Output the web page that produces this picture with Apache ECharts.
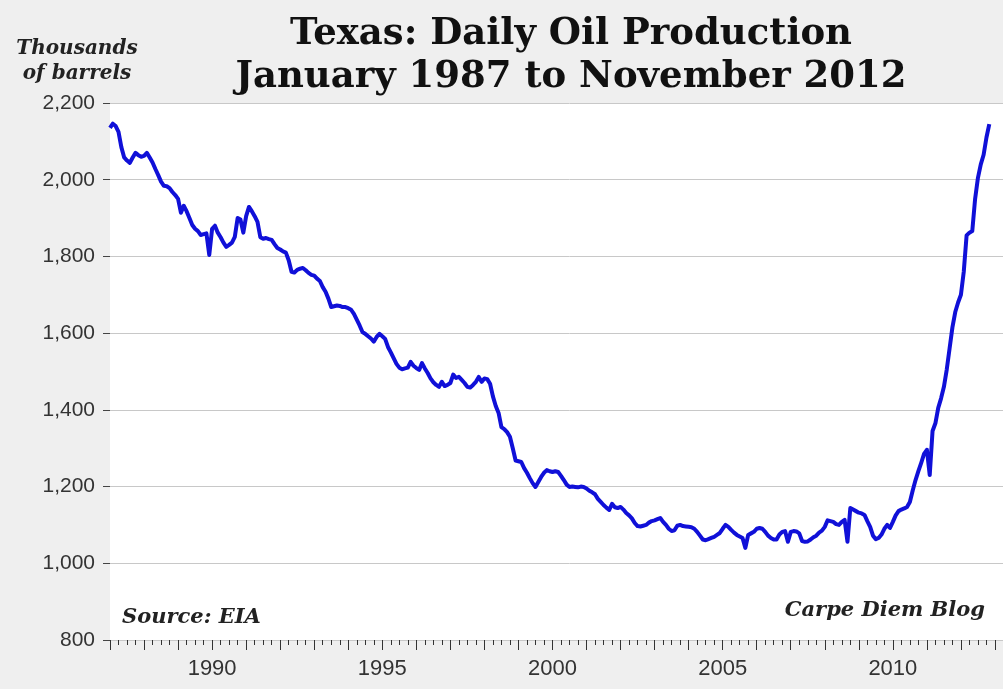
<!DOCTYPE html>
<html>
<head>
<meta charset="utf-8">
<script src="https://cdn.jsdelivr.net/npm/echarts@6/dist/echarts.min.js"></script>
<style>
html,body{margin:0;padding:0;background:#efefef;overflow:hidden;width:1003px;height:689px;}
#chart{width:1032px;height:689px;}
</style>
</head>
<body>
<div id="chart"></div>
<script>
// Texas daily oil production, thousands of barrels, monthly Jan 1987 - Nov 2012
const startYear = 1987;
const production = [
  2135, 2146, 2140, 2125, 2085, 2058, 2050, 2044, 2058, 2070, 2064, 2060, // 1987
  2062, 2070, 2058, 2045, 2028, 2012, 1995, 1984, 1983, 1978, 1968, 1960, // 1988
  1950, 1914, 1932, 1918, 1900, 1882, 1872, 1866, 1856, 1858, 1860, 1804, // 1989
  1872, 1880, 1862, 1850, 1836, 1825, 1830, 1836, 1851, 1900, 1896, 1862, // 1990
  1905, 1929, 1918, 1905, 1890, 1850, 1846, 1848, 1845, 1843, 1832, 1822, // 1991
  1818, 1813, 1810, 1790, 1760, 1758, 1765, 1768, 1770, 1764, 1757, 1752, // 1992
  1750, 1742, 1736, 1720, 1708, 1690, 1668, 1670, 1672, 1671, 1668, 1668, // 1993
  1665, 1661, 1650, 1635, 1620, 1603, 1598, 1592, 1586, 1578, 1590, 1598, // 1994
  1592, 1585, 1564, 1550, 1535, 1520, 1510, 1506, 1508, 1510, 1525, 1515, // 1995
  1509, 1504, 1522, 1508, 1496, 1482, 1472, 1465, 1460, 1473, 1462, 1465, // 1996
  1470, 1492, 1483, 1486, 1478, 1470, 1460, 1458, 1465, 1473, 1486, 1473, // 1997
  1482, 1480, 1468, 1435, 1410, 1392, 1355, 1350, 1342, 1330, 1300, 1268, // 1998
  1266, 1264, 1248, 1236, 1222, 1209, 1199, 1212, 1225, 1236, 1243, 1240, // 1999
  1238, 1240, 1238, 1228, 1217, 1205, 1199, 1200, 1199, 1198, 1200, 1199, // 2000
  1195, 1189, 1185, 1180, 1168, 1160, 1152, 1145, 1139, 1155, 1146, 1144, // 2001
  1147, 1140, 1131, 1125, 1117, 1105, 1097, 1096, 1098, 1100, 1106, 1110, // 2002
  1112, 1115, 1118, 1108, 1100, 1090, 1084, 1086, 1098, 1100, 1097, 1096, // 2003
  1095, 1094, 1090, 1082, 1072, 1062, 1060, 1063, 1066, 1069, 1074, 1079, // 2004
  1090, 1100, 1095, 1087, 1080, 1074, 1070, 1066, 1040, 1074, 1078, 1082, // 2005
  1090, 1092, 1090, 1082, 1072, 1066, 1062, 1062, 1075, 1082, 1084, 1056, // 2006
  1082, 1084, 1083, 1078, 1058, 1056, 1057, 1062, 1068, 1072, 1080, 1085, // 2007
  1095, 1112, 1110, 1108, 1102, 1100, 1108, 1113, 1056, 1144, 1140, 1136, // 2008
  1132, 1130, 1126, 1110, 1095, 1072, 1063, 1066, 1075, 1090, 1100, 1092, // 2009
  1108, 1125, 1136, 1140, 1143, 1147, 1160, 1190, 1217, 1240, 1262, 1285, // 2010
  1296, 1230, 1345, 1365, 1405, 1430, 1460, 1505, 1560, 1615, 1655, 1680, // 2011
  1700, 1760, 1855, 1862, 1866, 1950, 2005, 2040, 2065, 2110, 2145        // 2012 (Jan-Nov)
];
const yMin = 800, yMax = 2200, yStep = 200;
const labelYears = [1990, 1995, 2000, 2005, 2010];
const titleLines = ['Texas: Daily Oil Production', 'January 1987 to November 2012'];
const unitLines = ['Thousands', 'of barrels'];
const sourceText = 'Source: EIA';
const creditText = 'Carpe Diem Blog';

const seriesData = production.map((v, i) => [startYear + i / 12, v]);

const chart = echarts.init(document.getElementById('chart'), null, {renderer: 'canvas'});
chart.setOption({
  backgroundColor: '#efefef',
  animation: false,
  title: {
    text: titleLines.join('\n'),
    left: 566,
    top: 8,
    textAlign: 'center',
    textStyle: {
      fontFamily: 'DejaVu Serif',
      fontWeight: 'bold',
      fontSize: 37,
      lineHeight: 43,
      color: '#111'
    }
  },
  grid: {
    left: 110, top: 103, bottom: 49, right: 0,
    show: true, backgroundColor: '#ffffff', borderWidth: 0,
    containLabel: false
  },
  xAxis: {
    type: 'value',
    min: 1987, max: 2014, interval: 1,
    axisLine: {show: true, lineStyle: {color: '#c8c8c8', width: 1}},
    axisTick: {show: true, length: 10, lineStyle: {color: '#333', width: 1}},
    minorTick: {show: true, splitNumber: 4, length: 5, lineStyle: {color: '#333', width: 1}},
    splitLine: {show: false},
    axisLabel: {
      margin: 18,
      fontFamily: 'Liberation Sans',
      fontSize: 22,
      color: '#333',
      formatter: v => labelYears.indexOf(v) >= 0 ? String(v) : ''
    }
  },
  yAxis: {
    type: 'value',
    min: yMin, max: yMax, interval: yStep,
    axisLine: {show: false},
    axisTick: {show: true, length: 7, lineStyle: {color: '#444', width: 1}},
    splitLine: {show: true, lineStyle: {color: '#c8c8c8', width: 1}},
    axisLabel: {
      margin: 15,
      fontFamily: 'Liberation Sans',
      fontSize: 21,
      color: '#333',
      formatter: v => v === yMin ? String(v) : v.toLocaleString('en-US')
    }
  },
  graphic: [
    {type: 'text', x: 77, y: 36, style: {text: unitLines.join('\n'), textAlign: 'center',
      font: 'italic bold 20px "DejaVu Serif"', lineHeight: 25, fill: '#222'}},
    {type: 'text', x: 122, y: 607, style: {text: sourceText,
      font: 'italic bold 21px "DejaVu Serif"', fill: '#222'}},
    {type: 'text', x: 985, y: 600, style: {text: creditText, textAlign: 'right',
      font: 'italic bold 21px "DejaVu Serif"', fill: '#222'}}
  ],
  series: [{
    type: 'line',
    data: seriesData,
    showSymbol: false,
    symbol: 'none',
    lineStyle: {color: '#1010d8', width: 4, join: 'round'},
    clip: true
  }]
});
</script>
</body>
</html>
